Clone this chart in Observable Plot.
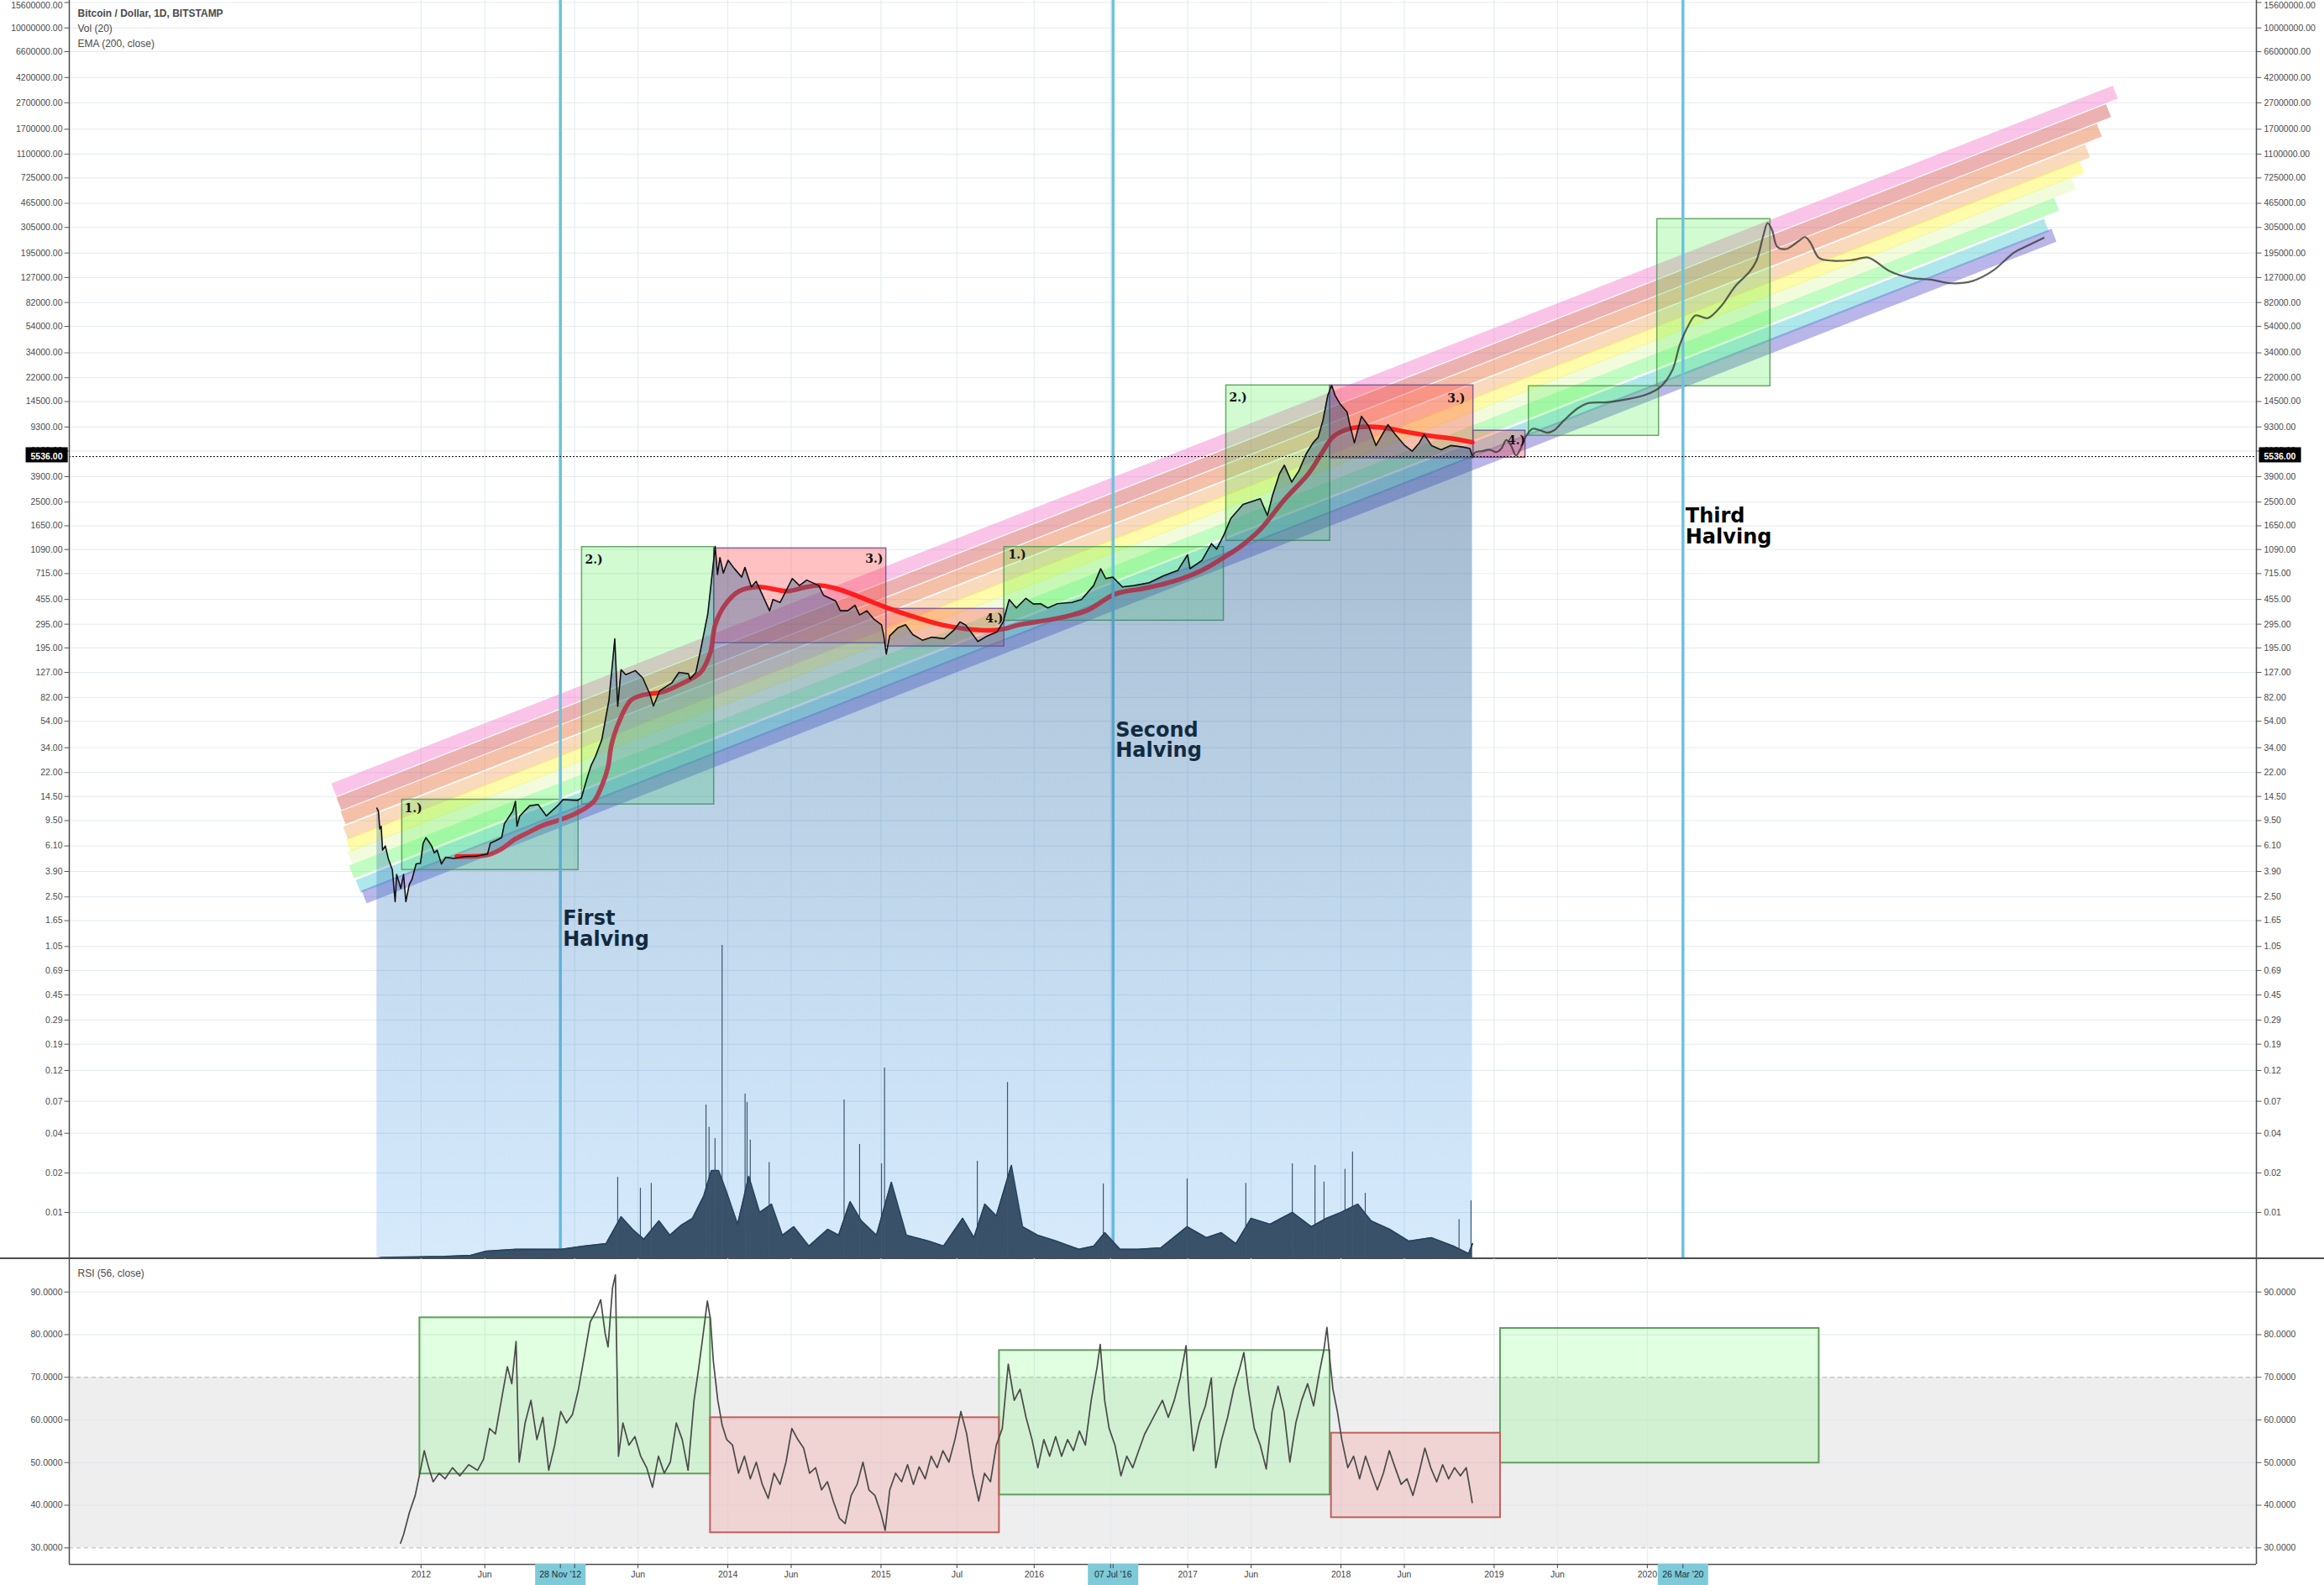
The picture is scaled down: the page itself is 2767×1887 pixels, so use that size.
<!DOCTYPE html>
<html><head><meta charset="utf-8">
<script src="https://cdn.jsdelivr.net/npm/d3@7"></script>
<script src="https://cdn.jsdelivr.net/npm/@observablehq/plot@0.6"></script>
<style>
html,body{margin:0;padding:0;background:#fff;overflow:hidden;}
#chart{position:relative;width:2767px;height:1887px;overflow:hidden;background:#fff;font-family:"Liberation Sans",Arial,sans-serif;}
#chart svg{position:absolute;left:0;max-width:none!important;}
</style></head>
<body><div id="chart"></div>
<script>
// ---------------- DATA (time as decimal year, prices in USD) ----------------
const titleLines = ["Bitcoin / Dollar, 1D, BITSTAMP", "Vol (20)", "EMA (200, close)"];
const rsiTitle = "RSI (56, close)";
const lastPrice = 5536;

const priceTicks = [15600000,10000000,6600000,4200000,2700000,1700000,1100000,725000,465000,305000,195000,127000,82000,54000,34000,22000,14500,9300,6100,3900,2500,1650,1090,715,455,295,195,127,82,54,34,22,14.5,9.5,6.1,3.9,2.5,1.65,1.05,0.69,0.45,0.29,0.19,0.12,0.07,0.04,0.02,0.01];
const rsiTicks = [90,80,70,60,50,40,30];
const rsiGuides = [30,70];

const xLabels = [["2012-01-01","2012"],["2012-06-01","Jun"],["2013-06-01","Jun"],["2014-01-01","2014"],["2014-06-01","Jun"],["2015-01-01","2015"],["2015-07-01","Jul"],["2016-01-01","2016"],["2017-01-01","2017"],["2017-06-01","Jun"],["2018-01-01","2018"],["2018-06-01","Jun"],["2019-01-01","2019"],["2019-06-01","Jun"],["2020-01-01","2020"]];
const hiddenTickDates = ["2013-01-01","2016-07-01"];
const halvings = [["2012-11-28","28 Nov '12","First\nHalving",1.44],["2016-07-07","07 Jul '16","Second\nHalving",38.9],["2020-03-26","26 Mar '20","Third\nHalving",1626]];

// BTC/USD daily close (sampled)  [year, price]
const price = [[2011.712,11.8],[2011.722,11.2],[2011.731,8.2],[2011.740,8.6],[2011.749,5.66],[2011.767,6.1],[2011.786,4.9],[2011.813,4.0],[2011.831,2.3],[2011.841,3.7],[2011.868,2.9],[2011.886,3.7],[2011.901,2.3],[2011.923,3.1],[2011.941,3.4],[2011.968,4.45],[2011.996,4.5],[2012.014,6.4],[2012.032,7.05],[2012.050,6.6],[2012.069,6.1],[2012.087,5.4],[2012.105,5.66],[2012.133,4.45],[2012.160,5.0],[2012.215,4.9],[2012.288,5.07],[2012.361,5.1],[2012.434,5.3],[2012.452,6.4],[2012.489,6.7],[2012.526,7.05],[2012.544,9.0],[2012.598,11.2],[2012.616,13.3],[2012.626,8.6],[2012.644,10.3],[2012.708,12.3],[2012.763,12.6],[2012.818,10.3],[2012.890,12.3],[2012.927,13.7],[2013.019,13.5],[2013.046,14.1],[2013.082,19.7],[2013.110,25],[2013.137,29],[2013.179,39],[2013.226,78],[2013.264,228],[2013.283,70],[2013.305,133],[2013.336,122],[2013.398,131],[2013.447,115],[2013.494,86],[2013.516,70.5],[2013.557,92],[2013.634,105],[2013.683,127],[2013.744,124],[2013.755,113],[2013.793,127],[2013.824,188],[2013.871,355],[2013.903,778],[2013.919,1150],[2013.934,705],[2013.950,946],[2013.972,722],[2014.003,902],[2014.045,778],[2014.092,672],[2014.113,796],[2014.155,566],[2014.186,624],[2014.233,476],[2014.274,373],[2014.296,454],[2014.343,432],[2014.422,656],[2014.469,580],[2014.516,638],[2014.595,580],[2014.626,489],[2014.705,443],[2014.735,373],[2014.784,373],[2014.831,411],[2014.861,347],[2014.909,373],[2014.955,322],[2015.004,292],[2015.019,240],[2015.035,175],[2015.057,240],[2015.113,278],[2015.161,292],[2015.208,246],[2015.271,223],[2015.333,235],[2015.413,229],[2015.475,265],[2015.516,307],[2015.554,290],[2015.633,218],[2015.694,240],[2015.758,258],[2015.798,307],[2015.837,454],[2015.884,392],[2015.946,464],[2015.995,420],[2016.042,422],[2016.089,392],[2016.152,422],[2016.246,432],[2016.309,454],[2016.388,580],[2016.434,778],[2016.467,656],[2016.513,672],[2016.576,566],[2016.653,580],[2016.750,610],[2016.844,689],[2016.938,758],[2017.001,993],[2017.017,778],[2017.095,902],[2017.157,1208],[2017.190,1096],[2017.237,1400],[2017.283,1877],[2017.363,2400],[2017.475,2650],[2017.522,1972],[2017.554,2780],[2017.601,4110],[2017.632,4760],[2017.680,3550],[2017.727,4310],[2017.774,5790],[2017.820,7050],[2017.853,7780],[2017.884,10430],[2017.916,16200],[2017.941,19260],[2017.963,16200],[2017.994,14000],[2018.041,12080],[2018.057,9930],[2018.089,7050],[2018.135,11200],[2018.182,9440],[2018.230,6720],[2018.308,9680],[2018.356,8160],[2018.418,6720],[2018.466,6080],[2018.513,7050],[2018.544,8160],[2018.592,6720],[2018.655,6240],[2018.717,6720],[2018.796,6550],[2018.843,6380],[2018.859,5536]];

// EMA (200, close)
const ema = [[2012.233,5.07],[2012.361,5.1],[2012.434,5.2],[2012.526,5.8],[2012.616,6.9],[2012.708,7.8],[2012.800,8.8],[2012.890,9.5],[2012.982,10.4],[2013.055,11.5],[2013.128,13.3],[2013.183,17.9],[2013.219,24],[2013.242,35.5],[2013.289,52.6],[2013.368,77.8],[2013.447,85.7],[2013.573,90],[2013.698,104],[2013.824,127],[2013.887,179],[2013.919,292],[2013.981,411],[2014.076,526],[2014.202,566],[2014.390,526],[2014.516,566],[2014.610,580],[2014.705,552],[2014.861,476],[2015.019,402],[2015.208,338],[2015.397,292],[2015.554,272],[2015.711,265],[2015.806,272],[2015.900,292],[2016.120,322],[2016.340,373],[2016.529,501],[2016.718,552],[2016.907,624],[2017.095,758],[2017.221,922],[2017.347,1150],[2017.475,1545],[2017.632,2600],[2017.790,4110],[2017.884,6080],[2017.947,7780],[2018.026,8780],[2018.104,9240],[2018.261,9240],[2018.419,8570],[2018.576,7970],[2018.733,7580],[2018.859,7110]];

// Projected path drawn after the last bar
const projection = [[2018.859,5536],[2018.875,5940],[2018.922,6100],[2018.969,6240],[2019.016,6000],[2019.048,6380],[2019.080,7400],[2019.111,6720],[2019.143,5650],[2019.174,6380],[2019.205,7780],[2019.252,9000],[2019.300,8780],[2019.347,8420],[2019.393,8780],[2019.456,10430],[2019.551,13000],[2019.614,14100],[2019.740,14330],[2019.866,15070],[2019.992,16370],[2020.086,18750],[2020.164,25170],[2020.212,39080],[2020.269,55100],[2020.315,65430],[2020.394,62350],[2020.485,77800],[2020.575,109600],[2020.666,140000],[2020.712,170200],[2020.757,264300],[2020.785,329500],[2020.814,291800],[2020.848,217400],[2020.905,209000],[2020.985,239300],[2021.030,257600],[2021.064,233900],[2021.121,178600],[2021.212,170200],[2021.326,172000],[2021.439,180300],[2021.484,170200],[2021.575,143300],[2021.711,126700],[2021.848,122500],[2021.984,114800],[2022.121,119400],[2022.256,143300],[2022.393,196700],[2022.483,222300],[2022.586,254100]];

// Rainbow bands: [start year, start price, end year, end price]
const bandColors = ["#f472c9","#d24848","#e86a30","#f0a860","#fcf838","#dff8ad","#6cf870","#40c8cc","#5a50cc"];
const bands = [[2011.4312,16.27,2023.0532,3252000],[2011.4641,12.77,2023.0093,2353000],[2011.4915,9.98,2022.9490,1676000],[2011.5079,7.64,2022.8723,1164000],[2011.5244,6.14,2022.8340,884500],[2011.5353,4.94,2022.7792,663000],[2011.5463,3.87,2022.6696,458000],[2011.5901,3.00,2022.6038,316700],[2011.6285,2.50,2022.6531,266300]];

// Cycle boxes on price: [start, end, low, high, kind]
const priceBoxes = [[2011.877,2013.027,4.0,13.7,"up"],[2013.050,2013.912,12.6,1138,"up"],[2013.912,2015.035,212,1112,"down"],[2015.035,2015.805,200,386,"down"],[2015.805,2017.237,314,1138,"up"],[2017.253,2017.931,1270,19240,"up"],[2017.931,2018.865,5380,19240,"down"],[2018.865,2019.205,5430,8710,"down"],[2019.227,2020.076,7970,18970,"up"],[2020.065,2020.803,18970,353000,"up"]];
// Box labels: [year, price, text, anchor]
const boxLabels = [[2011.8915,11.74,"1.)","start"],[2013.0696,913,"2.)","start"],[2015.0148,923,"3.)","end"],[2015.7984,327,"4.)","end"],[2015.8312,993,"1.)","start"],[2017.2723,15500,"2.)","start"],[2018.8121,15280,"3.)","end"],[2019.205,7330,"4.)","end"]];

// RSI boxes: [start, end, low, high, kind]
const rsiBoxes = [[2011.992,2013.888,47.34,83.97,"up"],[2013.888,2015.773,33.55,60.53,"down"],[2015.773,2017.930,42.41,76.29,"up"],[2017.939,2019.042,37.09,56.91,"down"],[2019.042,2021.121,49.9,81.47,"up"]];

// Volume (thousand BTC, smoothed envelope) and notable spikes
const volume = [[2011.711,0.2],[2011.741,0.5],[2012.155,1.0],[2012.324,1.5],[2012.426,3.3],[2012.620,4.1],[2012.916,4.1],[2013.062,5.5],[2013.207,6.6],[2013.305,18.4],[2013.380,12.9],[2013.453,8.5],[2013.552,16.6],[2013.623,10.3],[2013.698,14.7],[2013.771,17.7],[2013.845,27.6],[2013.894,38.7],[2013.941,38.7],[2013.990,29.8],[2014.065,15.1],[2014.138,36.1],[2014.209,20.3],[2014.286,23.9],[2014.357,10.3],[2014.432,14.0],[2014.530,5.5],[2014.653,12.9],[2014.724,10.3],[2014.799,25.0],[2014.872,16.6],[2014.971,10.3],[2015.068,33.5],[2015.166,10.3],[2015.311,7.7],[2015.409,5.5],[2015.533,17.7],[2015.607,9.2],[2015.678,23.9],[2015.753,18.8],[2015.851,40.9],[2015.924,14.0],[2016.022,10.3],[2016.144,7.7],[2016.292,4.1],[2016.389,5.5],[2016.461,11.4],[2016.560,4.1],[2016.681,4.1],[2016.828,4.8],[2016.998,14.0],[2017.123,9.2],[2017.221,11.4],[2017.316,6.6],[2017.415,17.7],[2017.539,15.1],[2017.684,20.3],[2017.808,14.0],[2017.906,17.7],[2018.001,20.3],[2018.111,23.9],[2018.198,16.6],[2018.319,12.9],[2018.445,7.7],[2018.591,9.2],[2018.735,5.5],[2018.834,2.2],[2018.860,6.6]];
const volSpikes = [[2013.964,137.4],[2013.859,67.4],[2013.879,57.6],[2013.918,52.7],[2014.114,72.2],[2014.127,68.5],[2014.148,52.0],[2014.271,42.2],[2014.760,69.6],[2015.004,41.6],[2015.024,83.6],[2014.861,50.1],[2015.826,77.3],[2018.077,46.8],[2017.684,41.6],[2017.891,33.6],[2018.028,39.2],[2018.160,28.7],[2018.772,17.1],[2016.451,32.8],[2018.850,25.4],[2013.283,35.7],[2013.431,30.9],[2013.502,33.0],[2015.629,42.7],[2016.998,35.0],[2017.381,33.1],[2017.832,40.9]];

// RSI (56, close)
const rsi = [[2011.866,31.1],[2011.886,33.1],[2011.924,38.3],[2011.962,42.3],[2011.992,47.5],[2012.021,52.8],[2012.050,48.8],[2012.079,45.5],[2012.118,47.5],[2012.157,46.2],[2012.205,48.8],[2012.253,46.9],[2012.311,49.5],[2012.369,48.2],[2012.408,50.8],[2012.447,58.0],[2012.485,56.7],[2012.524,64.6],[2012.563,72.5],[2012.592,68.5],[2012.620,78.4],[2012.640,50.1],[2012.679,59.3],[2012.717,64.6],[2012.756,55.4],[2012.795,60.6],[2012.833,48.2],[2012.872,54.1],[2012.911,62.0],[2012.949,59.3],[2012.988,61.3],[2013.027,67.2],[2013.066,75.1],[2013.104,83.0],[2013.143,85.6],[2013.172,88.2],[2013.201,80.3],[2013.220,77.1],[2013.249,90.9],[2013.268,94.0],[2013.288,51.5],[2013.317,59.3],[2013.356,54.1],[2013.395,56.1],[2013.433,51.5],[2013.472,48.8],[2013.510,44.2],[2013.549,51.5],[2013.587,47.5],[2013.626,50.1],[2013.665,59.3],[2013.704,55.4],[2013.742,48.2],[2013.781,64.6],[2013.810,71.8],[2013.839,79.7],[2013.868,87.9],[2013.888,83.6],[2013.907,73.8],[2013.936,64.6],[2013.965,58.7],[2013.994,55.4],[2014.032,54.1],[2014.071,47.5],[2014.110,51.5],[2014.148,46.2],[2014.187,50.1],[2014.226,44.9],[2014.265,41.6],[2014.303,47.5],[2014.342,44.9],[2014.381,50.1],[2014.419,58.0],[2014.458,55.4],[2014.496,53.4],[2014.535,47.5],[2014.574,48.8],[2014.613,43.6],[2014.651,45.5],[2014.690,40.9],[2014.729,37.0],[2014.767,35.7],[2014.806,42.3],[2014.845,44.9],[2014.883,50.1],[2014.922,43.6],[2014.961,42.3],[2014.999,38.3],[2015.028,34.1],[2015.058,43.6],[2015.096,47.5],[2015.135,45.5],[2015.174,49.5],[2015.212,44.9],[2015.250,49.0],[2015.289,46.2],[2015.328,51.5],[2015.367,48.8],[2015.405,52.8],[2015.444,50.1],[2015.483,55.4],[2015.522,62.0],[2015.560,56.7],[2015.599,47.5],[2015.638,41.0],[2015.676,47.5],[2015.715,45.5],[2015.753,54.1],[2015.792,58.0],[2015.831,73.1],[2015.870,64.6],[2015.908,67.2],[2015.947,60.6],[2015.986,55.4],[2016.024,48.8],[2016.063,55.4],[2016.101,51.5],[2016.140,56.1],[2016.179,51.5],[2016.218,55.4],[2016.256,52.8],[2016.295,57.4],[2016.334,54.1],[2016.372,64.6],[2016.411,72.5],[2016.431,77.7],[2016.460,64.6],[2016.489,58.0],[2016.527,54.1],[2016.566,46.9],[2016.604,51.5],[2016.643,48.8],[2016.682,52.8],[2016.721,56.7],[2016.759,59.3],[2016.798,62.0],[2016.837,64.6],[2016.875,60.6],[2016.914,64.6],[2016.952,69.8],[2016.991,77.4],[2017.011,64.6],[2017.039,52.8],[2017.078,59.3],[2017.117,63.3],[2017.156,69.8],[2017.185,48.8],[2017.223,55.4],[2017.262,60.6],[2017.301,67.2],[2017.339,71.8],[2017.368,75.8],[2017.397,67.2],[2017.436,58.0],[2017.475,54.1],[2017.514,48.5],[2017.552,62.0],[2017.591,67.9],[2017.630,62.0],[2017.668,50.1],[2017.707,59.3],[2017.745,64.6],[2017.784,68.5],[2017.823,63.3],[2017.861,71.2],[2017.890,76.4],[2017.910,81.7],[2017.930,73.8],[2017.949,67.2],[2017.978,62.0],[2018.007,55.4],[2018.046,48.8],[2018.084,51.5],[2018.123,46.2],[2018.162,51.5],[2018.200,47.5],[2018.239,43.6],[2018.278,47.5],[2018.317,52.8],[2018.355,48.8],[2018.394,44.9],[2018.432,46.2],[2018.471,42.3],[2018.510,47.5],[2018.549,53.4],[2018.587,48.8],[2018.626,45.5],[2018.665,49.5],[2018.704,46.2],[2018.742,48.8],[2018.781,46.9],[2018.819,48.8],[2018.838,44.9],[2018.858,40.6]];

// ---------------- LAYOUT ----------------
const W = 2767, ML = 82, MR = 81;
const PRICE_H = 1498, RSI_H = 364, AXIS_H = 25;
const FONT = "Liberation Sans, Arial, sans-serif";
const T0 = Date.UTC(2012, 0, 1);
const toDate = t => new Date(T0 + (t - 2012) * 365.25 * 864e5);
const xDomain = [toDate(2009.7052), toDate(2023.9737)];
const yDomain = [0.00446, 16183000];
const volDomain = [0, 551.75];
const rsiDomain = [26.12, 97.82];
const ns = "http://www.w3.org/2000/svg";
const chart = document.getElementById("chart");
const place = (svg, top) => { svg.style.top = top + "px"; chart.appendChild(svg); return svg; };
const baseStyle = {background: "transparent", overflow: "visible", fontFamily: FONT};
const common = {width: W, marginLeft: ML, marginRight: MR, marginTop: 0, marginBottom: 0, style: baseStyle,
  x: {type: "utc", domain: xDomain, axis: null}};

const gridDates = xLabels.map(d => new Date(d[0])).concat(hiddenTickDates.map(d => new Date(d)));
const halvingDates = halvings.map(d => new Date(d[0]));
const upFill = "#33ee33", downFill = "#ff3333";
const AXIS_COLOR = "#4a4a4a";

// small horizontal tick symbol for the value axes
const hTick = {draw(ctx, size) { const r = Math.sqrt(size / Math.PI); ctx.moveTo(-r, 0); ctx.lineTo(r, 0); }};
function valueAxis(ticks, fmt, side, extraTop) {
  const left = side === "left";
  const main = ticks.slice(extraTop ? 1 : 0);
  const marks = [
    Plot.dot(ticks, {y: d => d, frameAnchor: side, dx: left ? -3 : 3, r: 3, symbol: hTick, stroke: "#555", strokeWidth: 1}),
    Plot.text(main, {y: d => d, text: fmt, frameAnchor: side, dx: left ? -8 : 9, textAnchor: left ? "end" : "start", fontSize: 10.5, fill: AXIS_COLOR})
  ];
  if (extraTop) marks.push(Plot.text(ticks.slice(0, 1), {y: d => d, text: fmt, frameAnchor: side, dx: left ? -8 : 9, dy: 4, textAnchor: left ? "end" : "start", fontSize: 10.5, fill: AXIS_COLOR}));
  return marks;
}

// ---- Layer 1: price grid, rainbow, boxes, EMA, halvings
const bandMarks = bands.map((b, i) => Plot.line([[b[0], b[1]], [b[2], b[3]]], {
  x: d => toDate(d[0]), y: d => d[1], stroke: bandColors[i], strokeWidth: 16.4, strokeOpacity: 0.42, strokeLinecap: "butt"}));

place(Plot.plot({...common, height: PRICE_H,
  y: {type: "log", domain: yDomain, axis: null},
  marks: [
    Plot.ruleY(priceTicks, {stroke: "#e1eaf0"}),
    Plot.ruleX(gridDates, {stroke: "#e1eaf0"}),
    ...bandMarks,
    Plot.rect(priceBoxes.filter(d => d[4] === "up"), {x1: d => toDate(d[0]), x2: d => toDate(d[1]), y1: d => d[2], y2: d => d[3], fill: upFill, fillOpacity: 0.22, stroke: "#4f9a4f", strokeOpacity: 0.85, strokeWidth: 1.5}),
    Plot.rect(priceBoxes.filter(d => d[4] === "down"), {x1: d => toDate(d[0]), x2: d => toDate(d[1]), y1: d => d[2], y2: d => d[3], fill: downFill, fillOpacity: 0.3, stroke: "#6e4f8e", strokeOpacity: 0.85, strokeWidth: 1.5}),
    Plot.line(ema, {x: d => toDate(d[0]), y: d => d[1], stroke: "#ff1010", strokeWidth: 5.5, strokeOpacity: 0.9, curve: "catmull-rom"}),
    Plot.ruleX(halvingDates, {stroke: "#6cc3de", strokeWidth: 3.5}),
    Plot.text(halvings, {x: d => new Date(d[0]), y: d => d[3], text: d => d[2], dx: 3, textAnchor: "start", lineAnchor: "middle", lineHeight: 1.04, fontSize: 24, fontWeight: "bold", fontFamily: "DejaVu Sans", fill: "#000"})
  ]}), 0);

// ---- Layer 2: volume
place(Plot.plot({...common, height: PRICE_H,
  y: {type: "linear", domain: volDomain, axis: null},
  marks: [
    Plot.areaY(volume, {x: d => toDate(d[0]), y: d => d[1], fill: "#363b42"}),
    Plot.ruleX(volSpikes, {x: d => toDate(d[0]), y1: 0, y2: d => d[1], stroke: "#3d4248", strokeWidth: 1.2}),
    Plot.line(volume, {x: d => toDate(d[0]), y: d => d[1], stroke: "#1c2631", strokeWidth: 1.6})
  ]}), 0);

// ---- Layer 3: price area, price line, labels, axes
const gradDefs = () => {
  const defs = document.createElementNS(ns, "defs");
  defs.innerHTML = '<linearGradient id="areaGrad" gradientUnits="userSpaceOnUse" x1="0" y1="450" x2="0" y2="1498">' +
    '<stop offset="0" stop-color="#2a5580" stop-opacity="0.46"/><stop offset="1" stop-color="#46a0f0" stop-opacity="0.22"/></linearGradient>';
  return defs;
};
const lastLabel = lastPrice.toFixed(2);
const top3 = place(Plot.plot({...common, height: PRICE_H,
  y: {type: "log", domain: yDomain, axis: null},
  marks: [
    gradDefs,
    Plot.areaY(price, {x: d => toDate(d[0]), y1: yDomain[0], y2: d => d[1], fill: "url(#areaGrad)"}),
    Plot.line(price, {x: d => toDate(d[0]), y: d => d[1], stroke: "#111", strokeWidth: 1.6}),
    Plot.line(projection, {x: d => toDate(d[0]), y: d => d[1], stroke: "#3a3a3a", strokeOpacity: 0.8, strokeWidth: 2.2, curve: "catmull-rom"}),
    Plot.text(boxLabels.filter(d => d[3] === "start"), {x: d => toDate(d[0]), y: d => d[1], text: d => d[2], textAnchor: "start", fontSize: 14, fontWeight: "bold", fontFamily: "DejaVu Serif", fill: "#111"}),
    Plot.text(boxLabels.filter(d => d[3] === "end"), {x: d => toDate(d[0]), y: d => d[1], text: d => d[2], textAnchor: "end", fontSize: 14, fontWeight: "bold", fontFamily: "DejaVu Serif", fill: "#111"}),
    Plot.ruleY([lastPrice], {stroke: "#000", strokeDasharray: "2,2", strokeWidth: 1}),
    ...valueAxis(priceTicks, d => d.toFixed(2), "left", true),
    ...valueAxis(priceTicks, d => d.toFixed(2), "right", true),
    Plot.ruleX(xDomain, {stroke: "#4d4d4d", strokeWidth: 1.5}),
    Plot.text([titleLines[0]], {text: d => d, frameAnchor: "top-left", dx: 10, dy: 16, lineAnchor: "middle", textAnchor: "start", fontSize: 12, fontWeight: "bold", fill: AXIS_COLOR}),
    Plot.text([titleLines[1]], {text: d => d, frameAnchor: "top-left", dx: 10, dy: 34, lineAnchor: "middle", textAnchor: "start", fontSize: 12, fill: AXIS_COLOR}),
    Plot.text([titleLines[2]], {text: d => d, frameAnchor: "top-left", dx: 10, dy: 52, lineAnchor: "middle", textAnchor: "start", fontSize: 12, fill: AXIS_COLOR}),
    Plot.text([lastPrice], {y: d => d, text: () => lastLabel, frameAnchor: "left", dx: -8, textAnchor: "end", fontSize: 10.5, fontWeight: "bold", fill: "#fff"}),
    Plot.text([lastPrice], {y: d => d, text: () => lastLabel, frameAnchor: "right", dx: 9, textAnchor: "start", fontSize: 10.5, fontWeight: "bold", fill: "#fff"})
  ]}), 0);

// black background boxes behind the last-price labels (found by their text content)
top3.querySelectorAll("text").forEach(t => {
  if (t.textContent !== lastLabel) return;
  const b = t.getBBox();
  const r = document.createElementNS(ns, "rect");
  r.setAttribute("x", b.x - 6); r.setAttribute("y", b.y - 4.5);
  r.setAttribute("width", b.width + 12); r.setAttribute("height", b.height + 6);
  r.setAttribute("fill", "#000");
  if (t.getAttribute("transform")) r.setAttribute("transform", t.getAttribute("transform"));
  t.parentNode.insertBefore(r, t);
});

// separator between panes
const sep = document.createElement("div");
sep.style.cssText = "position:absolute;left:0;top:1497px;width:2767px;height:1.5px;background:#4d4d4d;";
chart.appendChild(sep);

// ---- Layer 4: RSI pane
place(Plot.plot({...common, height: RSI_H,
  y: {type: "linear", domain: rsiDomain, axis: null},
  marks: [
    Plot.rect([rsiGuides], {x1: () => xDomain[0], x2: () => xDomain[1], y1: d => d[0], y2: d => d[1], fill: "#eeeeee"}),
    Plot.ruleX(gridDates, {stroke: "#e1eaf0"}),
    Plot.ruleY(rsiTicks.filter(v => !rsiGuides.includes(v)), {stroke: "#dfe6ec"}),
    Plot.ruleY(rsiGuides, {stroke: "#b4b4b4", strokeDasharray: "5,4"}),
    Plot.rect(rsiBoxes.filter(d => d[4] === "up"), {x1: d => toDate(d[0]), x2: d => toDate(d[1]), y1: d => d[2], y2: d => d[3], fill: "#33ff33", fillOpacity: 0.15, stroke: "#5f9f5f", strokeWidth: 2}),
    Plot.rect(rsiBoxes.filter(d => d[4] === "down"), {x1: d => toDate(d[0]), x2: d => toDate(d[1]), y1: d => d[2], y2: d => d[3], fill: "#ff3333", fillOpacity: 0.14, stroke: "#c0605c", strokeWidth: 2}),
    Plot.line(rsi, {x: d => toDate(d[0]), y: d => d[1], stroke: "#4a4a4a", strokeWidth: 1.7}),
    ...valueAxis(rsiTicks, d => d.toFixed(4), "left", false),
    ...valueAxis(rsiTicks, d => d.toFixed(4), "right", false),
    Plot.ruleX(xDomain, {stroke: "#4d4d4d", strokeWidth: 1.5}),
    Plot.ruleY([rsiDomain[0]], {stroke: "#4d4d4d", strokeWidth: 1.5}),
    Plot.text([rsiTitle], {text: d => d, frameAnchor: "top-left", dx: 10, dy: 18, lineAnchor: "middle", textAnchor: "start", fontSize: 12, fill: AXIS_COLOR})
  ]}), PRICE_H);

// ---- Layer 5: time axis strip
place(Plot.plot({...common, height: AXIS_H,
  marks: [
    Plot.ruleX(halvings, {x: d => new Date(d[0]), stroke: "#7ecad9", strokeWidth: 60}),
    Plot.ruleX(gridDates.concat(halvingDates), {insetBottom: 20, stroke: "#444"}),
    Plot.text(xLabels, {x: d => new Date(d[0]), text: d => d[1], fontSize: 10.5, fill: "#444"}),
    Plot.text(halvings, {x: d => new Date(d[0]), text: d => d[1], fontSize: 10.5, fill: "#1e2a33"})
  ]}), PRICE_H + RSI_H);
</script>
</body></html>
